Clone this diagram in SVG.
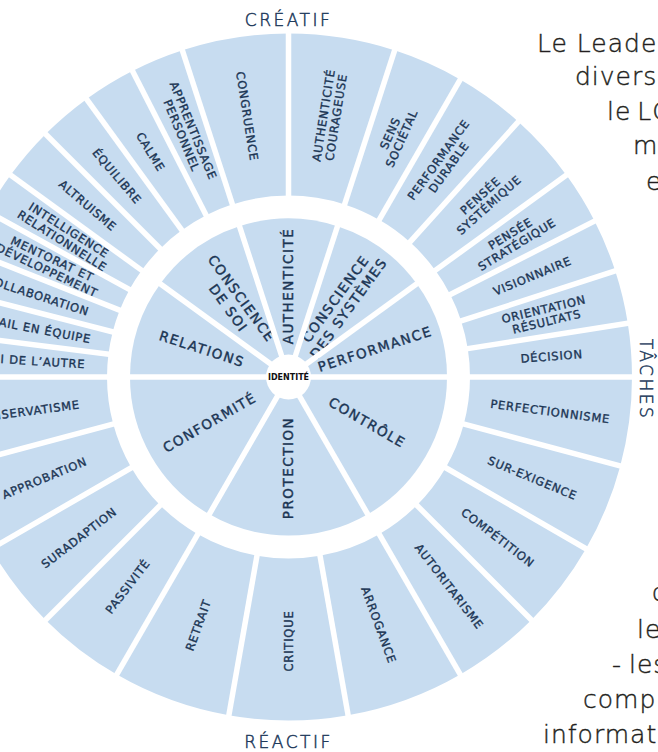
<svg xmlns="http://www.w3.org/2000/svg" width="658" height="752" viewBox="0 0 658 752">
<style>
.seg{fill:none;stroke:#c7dcf0;stroke-width:162}
.iseg{fill:none;stroke:#c7dcf0;stroke-width:158.5}
.sep line{stroke:#fff;stroke-width:5.5}
.lbl{font-family:"DejaVu Sans",sans-serif;font-size:11.5px;letter-spacing:0.8px;fill:#1b3554;stroke:#1b3554;stroke-width:0.35px;text-anchor:middle}
.ilbl{font-family:"DejaVu Sans",sans-serif;font-size:13.5px;letter-spacing:1.5px;fill:#1b3554;stroke:#1b3554;stroke-width:0.4px;text-anchor:middle}
.axis{font-family:"DejaVu Sans",sans-serif;font-weight:200;font-size:17px;letter-spacing:2.5px;fill:#1f3b5c;stroke:#1f3b5c;stroke-width:0.5px}
.para{font-family:"DejaVu Sans",sans-serif;font-weight:200;font-size:25px;letter-spacing:1px;fill:#231f20;stroke:#231f20;stroke-width:0.4px}
</style>
<rect width="658" height="752" fill="#fff"/>
<g id="paragraph">
<text class="para" x="537" y="52">Le Leade</text>
<text class="para" x="575" y="85">divers</text>
<text class="para" x="607" y="120" word-spacing="-3">le LC</text>
<text class="para" x="633" y="154">m</text>
<text class="para" x="646" y="190">e</text>
<text class="para" x="652" y="601">c</text>
<text class="para" x="637" y="638">le</text>
<text class="para" x="612" y="673" word-spacing="-2">- les</text>
<text class="para" x="583" y="708">comp</text>
<text class="para" x="543" y="743">informat</text>
</g>
<g id="axes">
<text class="axis" x="288.5" y="26" text-anchor="middle">CRÉATIF</text>
<text class="axis" x="288.5" y="748" text-anchor="middle">RÉACTIF</text>
<text class="axis" x="640" y="379.5" text-anchor="middle" transform="rotate(90 640 379.5)">TÂCHES</text>
</g>
<!-- outer ring -->
<g id="decision"><circle class="seg" cx="288.5" cy="377" r="262.5" stroke-dasharray="41.5 1700" transform="rotate(-9 288.5 377)"/><text class="lbl" transform="rotate(-4.5 288.5 377)" x="552.5" y="377" dy="0.36em">DÉCISION</text></g>
<g id="orientation"><circle class="seg" cx="288.5" cy="377" r="262.5" stroke-dasharray="41.5 1700" transform="rotate(-18 288.5 377)"/><text class="lbl" transform="rotate(-13.5 288.5 377)" y="377"><tspan x="552.5" dy="-0.19em">ORIENTATION</tspan><tspan x="552.5" dy="1.1em">RÉSULTATS</tspan></text></g>
<g id="visionnaire"><circle class="seg" cx="288.5" cy="377" r="262.5" stroke-dasharray="41.5 1700" transform="rotate(-27 288.5 377)"/><text class="lbl" transform="rotate(-22.5 288.5 377)" x="552.5" y="377" dy="0.36em">VISIONNAIRE</text></g>
<g id="strategique"><circle class="seg" cx="288.5" cy="377" r="262.5" stroke-dasharray="41.5 1700" transform="rotate(-36 288.5 377)"/><text class="lbl" transform="rotate(-31.5 288.5 377)" y="377"><tspan x="552.5" dy="-0.19em">PENSÉE</tspan><tspan x="552.5" dy="1.1em">STRATÉGIQUE</tspan></text></g>
<g id="systemique"><circle class="seg" cx="288.5" cy="377" r="262.5" stroke-dasharray="55.3 1700" transform="rotate(-48 288.5 377)"/><text class="lbl" transform="rotate(-42 288.5 377)" y="377"><tspan x="552.5" dy="-0.19em">PENSÉE</tspan><tspan x="552.5" dy="1.1em">SYSTÉMIQUE</tspan></text></g>
<g id="perf-durable"><circle class="seg" cx="288.5" cy="377" r="262.5" stroke-dasharray="55.3 1700" transform="rotate(-60 288.5 377)"/><text class="lbl" transform="rotate(-54 288.5 377)" y="377"><tspan x="552.5" dy="-0.19em">PERFORMANCE</tspan><tspan x="552.5" dy="1.1em">DURABLE</tspan></text></g>
<g id="sens"><circle class="seg" cx="288.5" cy="377" r="262.5" stroke-dasharray="55.3 1700" transform="rotate(-72 288.5 377)"/><text class="lbl" transform="rotate(-66 288.5 377)" y="377"><tspan x="552.5" dy="-0.19em">SENS</tspan><tspan x="552.5" dy="1.1em">SOCIÉTAL</tspan></text></g>
<g id="auth-courageuse"><circle class="seg" cx="288.5" cy="377" r="262.5" stroke-dasharray="82.8 1700" transform="rotate(-90 288.5 377)"/><text class="lbl" transform="rotate(-81 288.5 377)" y="377"><tspan x="552.5" dy="-0.19em">AUTHENTICITÉ</tspan><tspan x="552.5" dy="1.1em">COURAGEUSE</tspan></text></g>
<g id="congruence"><circle class="seg" cx="288.5" cy="377" r="262.5" stroke-dasharray="82.8 1700" transform="rotate(-108 288.5 377)"/><text class="lbl" transform="rotate(81 288.5 377)" x="24.5" y="377" dy="0.36em">CONGRUENCE</text></g>
<g id="apprentissage"><circle class="seg" cx="288.5" cy="377" r="262.5" stroke-dasharray="41.5 1700" transform="rotate(-117 288.5 377)"/><text class="lbl" transform="rotate(67.5 288.5 377)" y="377"><tspan x="24.5" dy="-0.19em">APPRENTISSAGE</tspan><tspan x="24.5" dy="1.1em">PERSONNEL</tspan></text></g>
<g id="calme"><circle class="seg" cx="288.5" cy="377" r="262.5" stroke-dasharray="41.5 1700" transform="rotate(-126 288.5 377)"/><text class="lbl" transform="rotate(58.5 288.5 377)" x="24.5" y="377" dy="0.36em">CALME</text></g>
<g id="equilibre"><circle class="seg" cx="288.5" cy="377" r="262.5" stroke-dasharray="41.5 1700" transform="rotate(-135 288.5 377)"/><text class="lbl" transform="rotate(49.5 288.5 377)" x="24.5" y="377" dy="0.36em">ÉQUILIBRE</text></g>
<g id="altruisme"><circle class="seg" cx="288.5" cy="377" r="262.5" stroke-dasharray="41.5 1700" transform="rotate(-144 288.5 377)"/><text class="lbl" transform="rotate(40.5 288.5 377)" x="24.5" y="377" dy="0.36em">ALTRUISME</text></g>
<g id="intelligence"><circle class="seg" cx="288.5" cy="377" r="262.5" stroke-dasharray="33.3 1700" transform="rotate(-151.2 288.5 377)"/><text class="lbl" transform="rotate(32.4 288.5 377)" y="377"><tspan x="24.5" dy="-0.19em">INTELLIGENCE</tspan><tspan x="24.5" dy="1.1em">RELATIONNELLE</tspan></text></g>
<g id="mentorat"><circle class="seg" cx="288.5" cy="377" r="262.5" stroke-dasharray="33.3 1700" transform="rotate(-158.4 288.5 377)"/><text class="lbl" transform="rotate(25.2 288.5 377)" y="377"><tspan x="24.5" dy="-0.19em">MENTORAT ET</tspan><tspan x="24.5" dy="1.1em">DÉVELOPPEMENT</tspan></text></g>
<g id="collaboration"><circle class="seg" cx="288.5" cy="377" r="262.5" stroke-dasharray="33.3 1700" transform="rotate(-165.6 288.5 377)"/><text class="lbl" transform="rotate(18 288.5 377)" x="24.5" y="377" dy="0.36em">COLLABORATION</text></g>
<g id="travail"><circle class="seg" cx="288.5" cy="377" r="262.5" stroke-dasharray="33.3 1700" transform="rotate(-172.8 288.5 377)"/><text class="lbl" transform="rotate(10.8 288.5 377)" x="24.5" y="377" dy="0.36em">TRAVAIL EN ÉQUIPE</text></g>
<g id="souci"><circle class="seg" cx="288.5" cy="377" r="262.5" stroke-dasharray="33.3 1700" transform="rotate(-180 288.5 377)"/><text class="lbl" transform="rotate(3.6 288.5 377)" x="24.5" y="377" dy="0.36em">SOUCI DE L’AUTRE</text></g>
<g id="perfectionnisme"><circle class="seg" cx="288.5" cy="377" r="262.5" stroke-dasharray="69 1700"/><text class="lbl" transform="rotate(7.5 288.5 377)" x="552.5" y="377" dy="0.36em">PERFECTIONNISME</text></g>
<g id="sur-exigence"><circle class="seg" cx="288.5" cy="377" r="262.5" stroke-dasharray="69 1700" transform="rotate(15 288.5 377)"/><text class="lbl" transform="rotate(22.5 288.5 377)" x="552.5" y="377" dy="0.36em">SUR-EXIGENCE</text></g>
<g id="competition"><circle class="seg" cx="288.5" cy="377" r="262.5" stroke-dasharray="69 1700" transform="rotate(30 288.5 377)"/><text class="lbl" transform="rotate(37.5 288.5 377)" x="552.5" y="377" dy="0.36em">COMPÉTITION</text></g>
<g id="autoritarisme"><circle class="seg" cx="288.5" cy="377" r="262.5" stroke-dasharray="69 1700" transform="rotate(45 288.5 377)"/><text class="lbl" transform="rotate(52.5 288.5 377)" x="552.5" y="377" dy="0.36em">AUTORITARISME</text></g>
<g id="arrogance"><circle class="seg" cx="288.5" cy="377" r="262.5" stroke-dasharray="91.9 1700" transform="rotate(60 288.5 377)"/><text class="lbl" transform="rotate(70 288.5 377)" x="552.5" y="377" dy="0.36em">ARROGANCE</text></g>
<g id="critique"><circle class="seg" cx="288.5" cy="377" r="262.5" stroke-dasharray="91.9 1700" transform="rotate(80 288.5 377)"/><text class="lbl" transform="rotate(-90 288.5 377)" x="24.5" y="377" dy="0.36em">CRITIQUE</text></g>
<g id="retrait"><circle class="seg" cx="288.5" cy="377" r="262.5" stroke-dasharray="91.9 1700" transform="rotate(100 288.5 377)"/><text class="lbl" transform="rotate(-70 288.5 377)" x="24.5" y="377" dy="0.36em">RETRAIT</text></g>
<g id="passivite"><circle class="seg" cx="288.5" cy="377" r="262.5" stroke-dasharray="69 1700" transform="rotate(120 288.5 377)"/><text class="lbl" transform="rotate(-52.5 288.5 377)" x="24.5" y="377" dy="0.36em">PASSIVITÉ</text></g>
<g id="suradaption"><circle class="seg" cx="288.5" cy="377" r="262.5" stroke-dasharray="69 1700" transform="rotate(135 288.5 377)"/><text class="lbl" transform="rotate(-37.5 288.5 377)" x="24.5" y="377" dy="0.36em">SURADAPTION</text></g>
<g id="approbation"><circle class="seg" cx="288.5" cy="377" r="262.5" stroke-dasharray="69 1700" transform="rotate(150 288.5 377)"/><text class="lbl" transform="rotate(-22.5 288.5 377)" x="24.5" y="377" dy="0.36em">APPROBATION</text></g>
<g id="conservatisme"><circle class="seg" cx="288.5" cy="377" r="262.5" stroke-dasharray="69 1700" transform="rotate(165 288.5 377)"/><text class="lbl" transform="rotate(-7.5 288.5 377)" x="24.5" y="377" dy="0.36em">CONSERVATISME</text></g>
<!-- inner ring -->
<g id="performance"><circle class="iseg" cx="288.5" cy="377" r="79.25" stroke-dasharray="50 600" transform="rotate(-36 288.5 377)"/><text class="ilbl" transform="rotate(-18 288.5 377)" x="379.5" y="377" dy="0.36em">PERFORMANCE</text></g>
<g id="conscience-systemes"><circle class="iseg" cx="288.5" cy="377" r="79.25" stroke-dasharray="50 600" transform="rotate(-72 288.5 377)"/><text class="ilbl" transform="rotate(-54 288.5 377)" y="377"><tspan x="379.5" dy="-0.24em">CONSCIENCE</tspan><tspan x="379.5" dy="1.2em">DES SYSTÈMES</tspan></text></g>
<g id="authenticite"><circle class="iseg" cx="288.5" cy="377" r="79.25" stroke-dasharray="50 600" transform="rotate(-108 288.5 377)"/><text class="ilbl" transform="rotate(-90 288.5 377)" x="379.5" y="377" dy="0.36em">AUTHENTICITÉ</text></g>
<g id="conscience-soi"><circle class="iseg" cx="288.5" cy="377" r="79.25" stroke-dasharray="50 600" transform="rotate(-144 288.5 377)"/><text class="ilbl" transform="rotate(54 288.5 377)" y="377"><tspan x="197.5" dy="-0.24em">CONSCIENCE</tspan><tspan x="197.5" dy="1.2em">DE SOI</tspan></text></g>
<g id="relations"><circle class="iseg" cx="288.5" cy="377" r="79.25" stroke-dasharray="50 600" transform="rotate(-180 288.5 377)"/><text class="ilbl" transform="rotate(18 288.5 377)" x="197.5" y="377" dy="0.36em">RELATIONS</text></g>
<g id="controle"><circle class="iseg" cx="288.5" cy="377" r="79.25" stroke-dasharray="83.2 600"/><text class="ilbl" transform="rotate(30 288.5 377)" x="379.5" y="377" dy="0.36em">CONTRÔLE</text></g>
<g id="protection"><circle class="iseg" cx="288.5" cy="377" r="79.25" stroke-dasharray="83.2 600" transform="rotate(60 288.5 377)"/><text class="ilbl" transform="rotate(-90 288.5 377)" x="197.5" y="377" dy="0.36em">PROTECTION</text></g>
<g id="conformite"><circle class="iseg" cx="288.5" cy="377" r="79.25" stroke-dasharray="83.2 600" transform="rotate(120 288.5 377)"/><text class="ilbl" transform="rotate(-30 288.5 377)" x="197.5" y="377" dy="0.36em">CONFORMITÉ</text></g>
<!-- separators -->
<g id="separators" class="sep">
<line x1="-70" y1="377" x2="650" y2="377"/>
<line x1="463.5" y1="377" x2="638.5" y2="377" transform="rotate(-9 288.5 377)"/>
<line x1="463.5" y1="377" x2="638.5" y2="377" transform="rotate(-18 288.5 377)"/>
<line x1="463.5" y1="377" x2="638.5" y2="377" transform="rotate(-27 288.5 377)"/>
<line x1="463.5" y1="377" x2="638.5" y2="377" transform="rotate(-36 288.5 377)"/>
<line x1="463.5" y1="377" x2="638.5" y2="377" transform="rotate(-48 288.5 377)"/>
<line x1="463.5" y1="377" x2="638.5" y2="377" transform="rotate(-60 288.5 377)"/>
<line x1="463.5" y1="377" x2="638.5" y2="377" transform="rotate(-72 288.5 377)"/>
<line x1="463.5" y1="377" x2="638.5" y2="377" transform="rotate(-90 288.5 377)"/>
<line x1="463.5" y1="377" x2="638.5" y2="377" transform="rotate(-108 288.5 377)"/>
<line x1="463.5" y1="377" x2="638.5" y2="377" transform="rotate(-117 288.5 377)"/>
<line x1="463.5" y1="377" x2="638.5" y2="377" transform="rotate(-126 288.5 377)"/>
<line x1="463.5" y1="377" x2="638.5" y2="377" transform="rotate(-135 288.5 377)"/>
<line x1="463.5" y1="377" x2="638.5" y2="377" transform="rotate(-144 288.5 377)"/>
<line x1="463.5" y1="377" x2="638.5" y2="377" transform="rotate(-151.2 288.5 377)"/>
<line x1="463.5" y1="377" x2="638.5" y2="377" transform="rotate(-158.4 288.5 377)"/>
<line x1="463.5" y1="377" x2="638.5" y2="377" transform="rotate(-165.6 288.5 377)"/>
<line x1="463.5" y1="377" x2="638.5" y2="377" transform="rotate(-172.8 288.5 377)"/>
<line x1="463.5" y1="377" x2="638.5" y2="377" transform="rotate(15 288.5 377)"/>
<line x1="463.5" y1="377" x2="638.5" y2="377" transform="rotate(30 288.5 377)"/>
<line x1="463.5" y1="377" x2="638.5" y2="377" transform="rotate(45 288.5 377)"/>
<line x1="463.5" y1="377" x2="638.5" y2="377" transform="rotate(60 288.5 377)"/>
<line x1="463.5" y1="377" x2="638.5" y2="377" transform="rotate(80 288.5 377)"/>
<line x1="463.5" y1="377" x2="638.5" y2="377" transform="rotate(100 288.5 377)"/>
<line x1="463.5" y1="377" x2="638.5" y2="377" transform="rotate(120 288.5 377)"/>
<line x1="463.5" y1="377" x2="638.5" y2="377" transform="rotate(135 288.5 377)"/>
<line x1="463.5" y1="377" x2="638.5" y2="377" transform="rotate(150 288.5 377)"/>
<line x1="463.5" y1="377" x2="638.5" y2="377" transform="rotate(165 288.5 377)"/>
<line x1="288.5" y1="377" x2="453.5" y2="377" transform="rotate(-36 288.5 377)"/>
<line x1="288.5" y1="377" x2="453.5" y2="377" transform="rotate(-72 288.5 377)"/>
<line x1="288.5" y1="377" x2="453.5" y2="377" transform="rotate(-108 288.5 377)"/>
<line x1="288.5" y1="377" x2="453.5" y2="377" transform="rotate(-144 288.5 377)"/>
<line x1="288.5" y1="377" x2="453.5" y2="377" transform="rotate(60 288.5 377)"/>
<line x1="288.5" y1="377" x2="453.5" y2="377" transform="rotate(120 288.5 377)"/>
</g>
<g id="identite">
<circle cx="288.5" cy="377" r="22.5" fill="#fff"/>
<text x="288.5" y="380" text-anchor="middle" style="font-family:'DejaVu Sans',sans-serif;font-weight:700;font-size:8px;fill:#111">IDENTITÉ</text>
</g>
</svg>
